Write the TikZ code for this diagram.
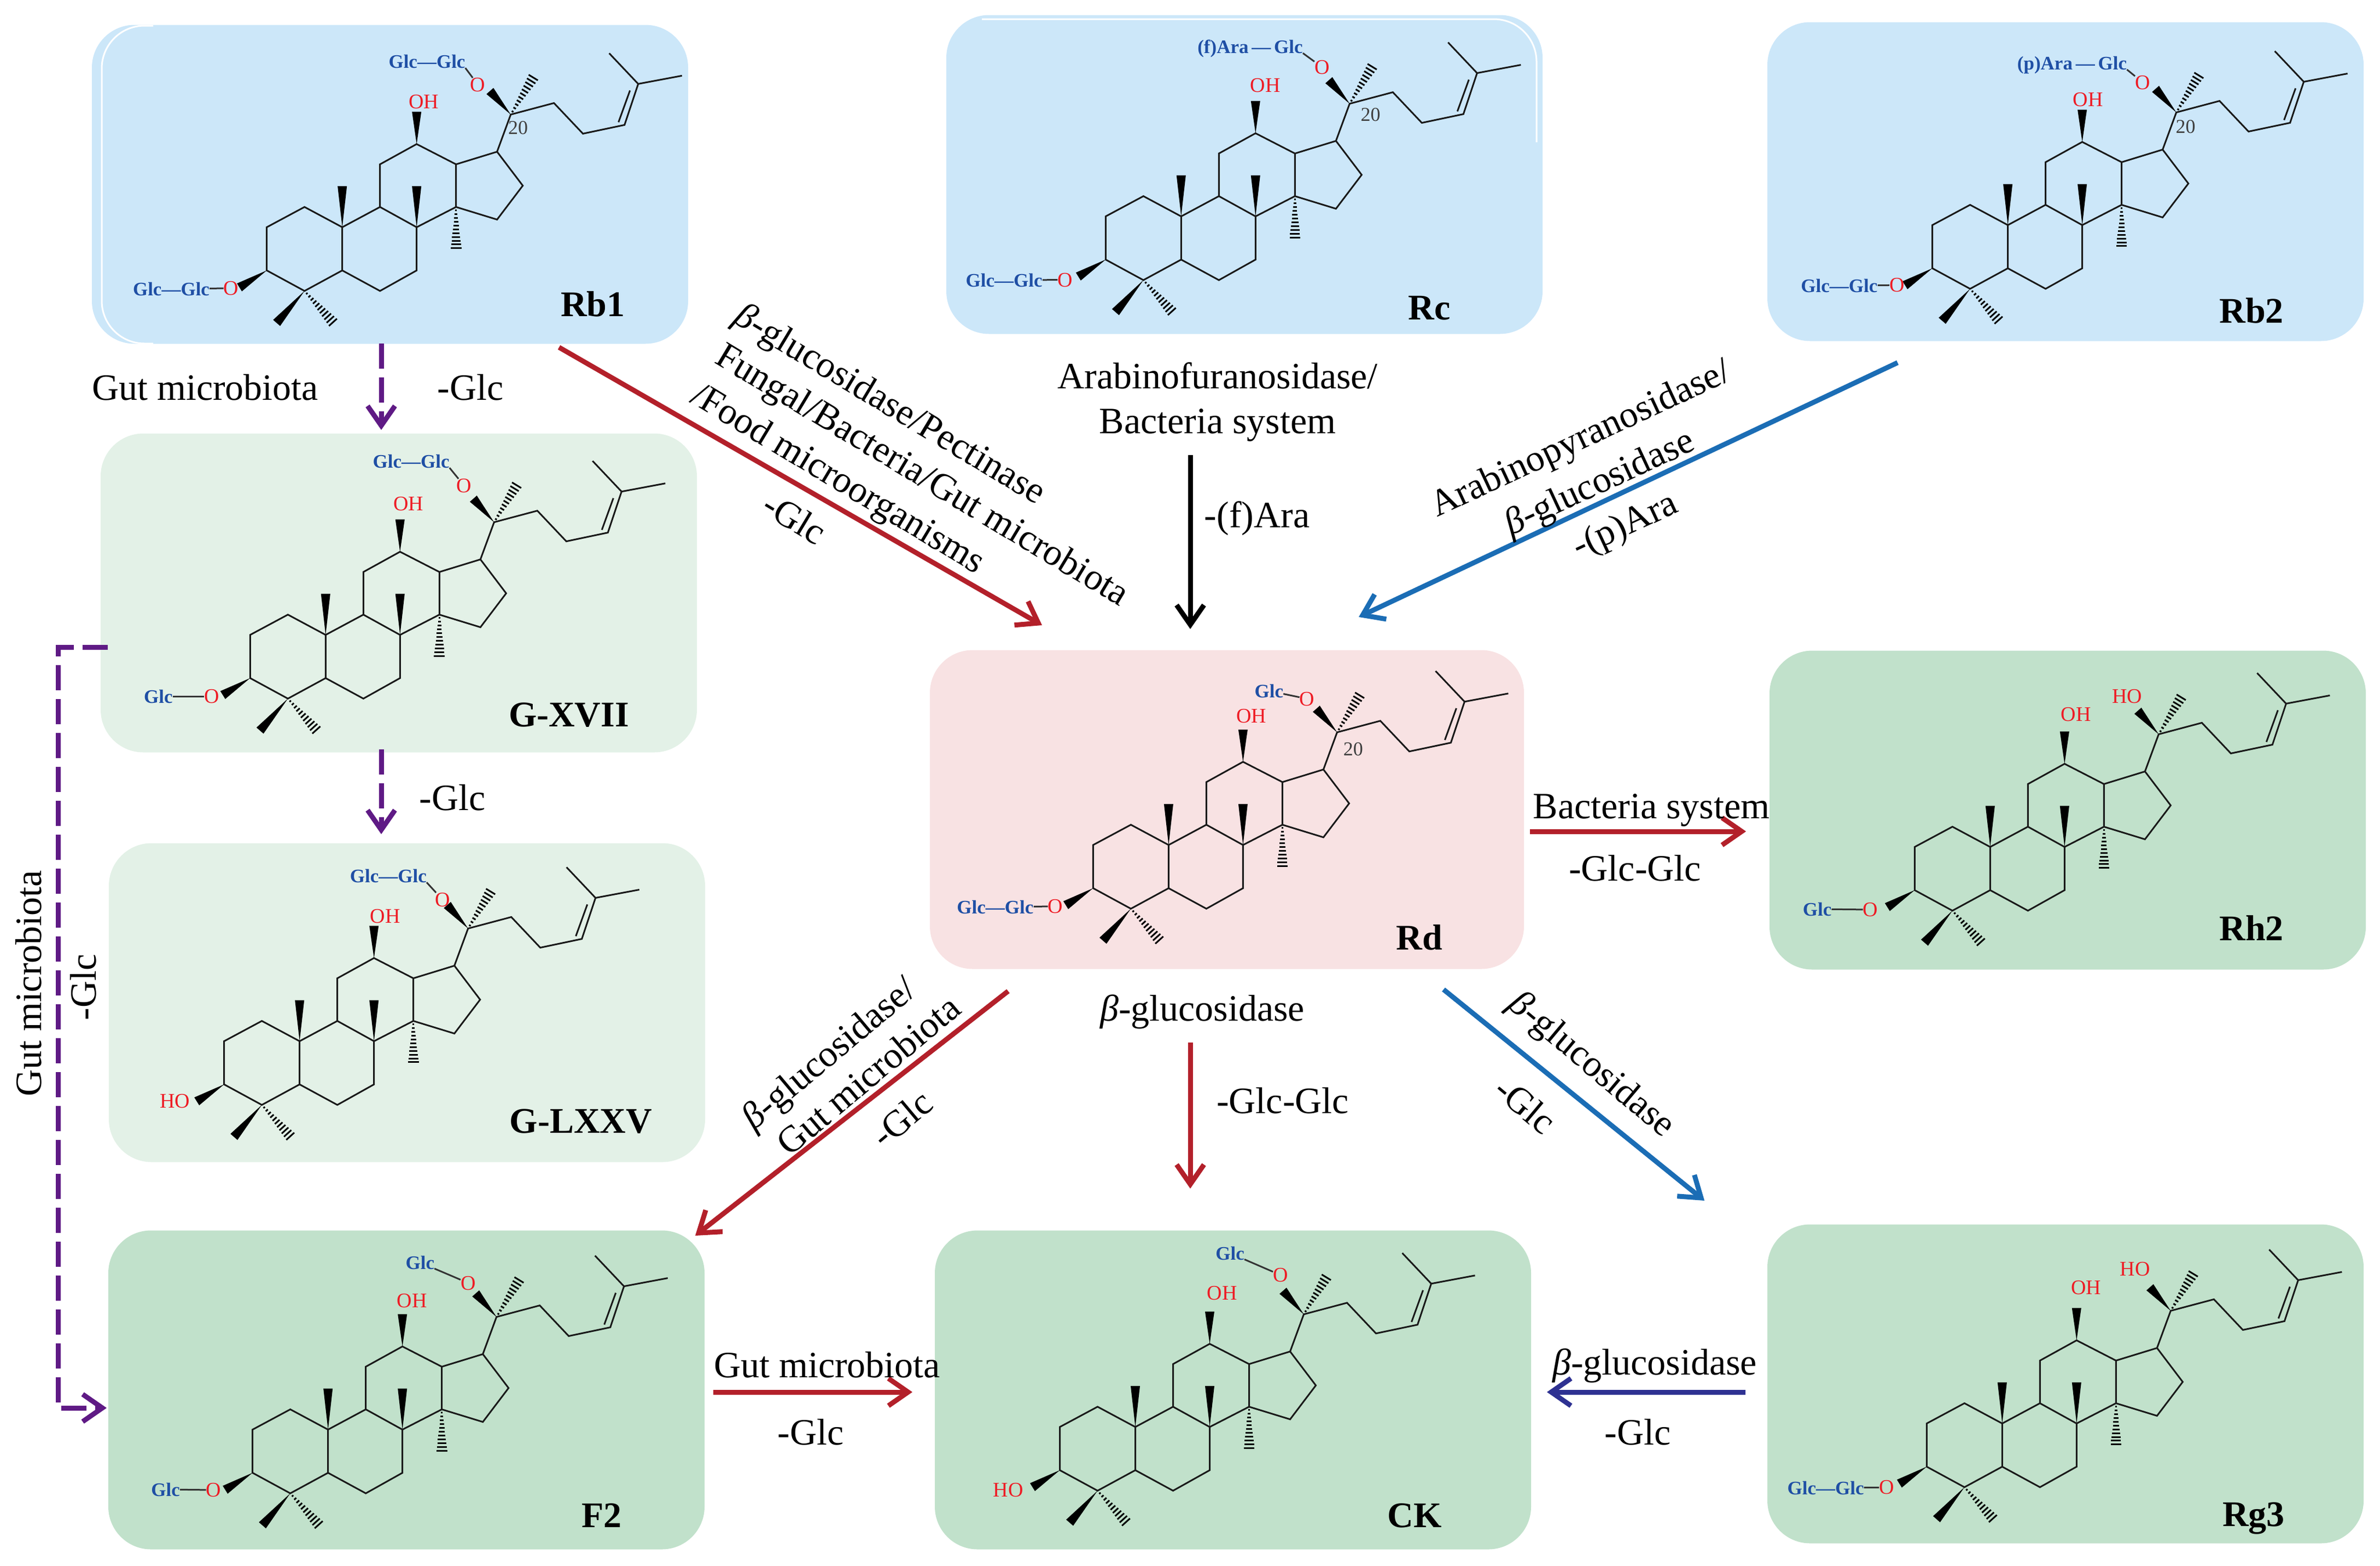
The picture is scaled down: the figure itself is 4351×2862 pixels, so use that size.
\documentclass[tikz,border=0pt]{standalone}
\usepackage{fontspec}
\setmainfont{Liberation Serif}
\usetikzlibrary{arrows.meta,calc}

\definecolor{boxblue}{HTML}{CCE7F9}
\definecolor{boxpink}{HTML}{F8E2E3}
\definecolor{boxpale}{HTML}{E3F1E7}
\definecolor{boxgreen}{HTML}{C1E1CB}
\definecolor{arrred}{HTML}{B3202A}
\definecolor{arrblue}{HTML}{1B6DB5}
\definecolor{arrnavy}{HTML}{2E3192}
\definecolor{arrpurple}{HTML}{5F1A85}
\definecolor{glcblue}{HTML}{1F4FA5}
\definecolor{oxred}{HTML}{EE1C25}

% hashed bond, narrow at the first point
\newcommand{\hashb}[2]{%
  \path (#1) coordinate (ha) (#2) coordinate (hb);
  \foreach \t in {0.08,0.17,...,1.02} {
    \pgfmathsetmacro{\hw}{1+\t*9}
    \draw[line width=3pt,black] ($(ha)!\t!(hb)!\hw pt!90:(hb)$) -- ($(ha)!\t!(hb)!\hw pt!-90:(hb)$);
  }
}
% solid wedge, narrow at the first point
\newcommand{\wedgeb}[2]{%
  \path (#1) coordinate (ha) (#2) coordinate (hb);
  \fill[black] (ha) -- ($(hb)!8.5pt!90:(ha)$) -- ($(hb)!8.5pt!-90:(ha)$) -- cycle;
}
% skeleton with C10 at the given place
\newcommand{\molat}[4]{%
  \begin{scope}[shift={(#1,#2)},xscale=#3,yscale=#4]
    \pic {mol};
  \end{scope}
}

\tikzset{
  x=1pt, y=-1pt,
  box/.style={rectangle, rounded corners=78pt, inner sep=0pt, minimum width=1090pt, minimum height=583pt},
  lab/.style={font=\fontsize{68}{82}\selectfont, inner sep=0pt, align=center},
  cname/.style={font=\bfseries\fontsize{66}{70}\selectfont, inner sep=0pt, text height=44pt, text depth=0pt},
  glc/.style={font=\bfseries\fontsize{35}{40}\selectfont, inner sep=0pt, text height=24pt, text depth=0pt, text=glcblue},
  oxy/.style={font=\fontsize{38}{42}\selectfont, inner sep=0pt, text height=25pt, text depth=0pt, text=oxred},
  num/.style={font=\fontsize{36}{40}\selectfont, inner sep=0pt, text=black!75},
  link/.style={line width=3pt, black!80},
  bond/.style={line width=3pt, black!90, line join=miter},
  arr/.style={line width=9pt, -{Straight Barb[length=36pt,width=50pt,line width=9pt]}},
  dashp/.style={arr, arrpurple, dash pattern=on 46pt off 16pt},
  mol/.pic={
    \begin{scope}[y=1pt]
      \draw[bond] (-138,-79) -- (-138,0) -- (-69,37) -- (0,0) -- (0,-79) -- (-69,-116.5) -- cycle;
      \draw[bond] (0,-79) -- (69,-116.5) -- (136,-79) -- (136,0) -- (69,37) -- (0,0);
      \draw[bond] (69,37) -- (69,115) -- (136,152) -- (208,115) -- (208,37) -- (136,0);
      \draw[bond] (208,37) -- (283,14) -- (330,76) -- (283,138) -- (208,115);
      \draw[bond] (283,138) -- (308,206) -- (387,227) -- (440,171) -- (516,187) -- (541,262) -- (488,318);
      \draw[bond] (541,262) -- (621,277);
      \draw[bond] (505,192) -- (526,250);
      \wedgeb{0,0}{0,75}
      \wedgeb{136,0}{136,75}
      \wedgeb{136,152}{136,211}
      \wedgeb{-69,-116.5}{-120,-175}
      \wedgeb{-138,-79}{-188,-110}
      \wedgeb{308,206}{270,249}
      \hashb{208,37}{208,-40}
      \hashb{-69,-116.5}{-16,-175}
      \hashb{308,206}{350,275}
    \end{scope}
  }
}

\begin{document}
\begin{tikzpicture}
  \useasboundingbox (0,0) rectangle (4351,2862);

  % boxes
  \node[box, fill=boxblue] (Rb1) at (713,337) {};
  \node[box, fill=boxblue] (Rc) at (2275,319) {};
  \node[box, fill=boxblue] (Rb2) at (3776,332) {};
  \node[box, fill=boxpale] (GXVII) at (729,1084) {};
  \node[box, fill=boxpale] (GLXXV) at (744,1833) {};
  \node[box, fill=boxgreen] (F2) at (743,2541) {};
  \node[box, fill=boxgreen] (CK) at (2254,2541) {};
  \node[box, fill=boxgreen] (Rg3) at (3776,2530) {};
  \node[box, fill=boxgreen] (Rh2) at (3780,1481) {};
  \node[box, fill=boxpink, minimum width=1086pt] (Rd) at (2243,1480) {};

  % white second edge on two of the blue boxes
  \draw[white, line width=3pt, rounded corners=78pt] (280,47) -- (186,47) -- (186,628) -- (280,628);
  \draw[white, line width=3pt, rounded corners=78pt] (1795,35) -- (2809,35) -- (2809,260);

  % skeletons
  \molat{625.7}{415.4}{.981}{.974}
  \molat{2159.3}{395.6}{1.02}{1.02}
  \molat{3670.6}{411.5}{.97}{.974}
  \molat{595.3}{1160.7}{1}{1.015}
  \molat{547.7}{1903.5}{1.03}{.974}
  \molat{599.7}{2613.6}{1.008}{1}
  \molat{2075.5}{2608.8}{1.045}{1.041}
  \molat{3660.3}{2602.4}{1.013}{1.055}
  \molat{3638.3}{1548.4}{1.045}{1.027}
  \molat{2136.4}{1544.8}{1}{1}

  % Rb1 groups
  \node[glc] (a1) at (780.5,112) {Glc—Glc};
  \node[oxy] (a2) at (873.7,155) {O};
  \draw[link] (a1.south east) -- (a2);
  \node[oxy] (a0) at (774.6,186) {OH};
  \node[num] (a3) at (947,233.5) {20};
  \node[glc] (a4) at (313,528) {Glc—Glc};
  \node[oxy] (a5) at (422.5,527) {O};
  \draw[link] (a4) -- (a5);
  % Rc groups
  \node[glc] (b1) at (2285.5,85) {(f)Ara\,—\,Glc};
  \node[oxy] (b2) at (2416.8,122.8) {O};
  \draw[link] (b1.south east) -- (b2);
  \node[oxy] (b0) at (2313.3,155.6) {OH};
  \node[num] (b3) at (2505.6,209.8) {20};
  \node[glc] (b4) at (1835.7,512.3) {Glc—Glc};
  \node[oxy] (b5) at (1947.3,511.5) {O};
  \draw[link] (b4) -- (b5);
  % Rb2 groups
  \node[glc] (c1) at (3788,115) {(p)Ara\,—\,Glc};
  \node[oxy] (c2) at (3917,150.5) {O};
  \draw[link] (c1.south east) -- (c2);
  \node[oxy] (c0) at (3817,182) {OH};
  \node[num] (c3) at (3995.6,232) {20};
  \node[glc] (c4) at (3362.4,522) {Glc—Glc};
  \node[oxy] (c5) at (3468,521.4) {O};
  \draw[link] (c4) -- (c5);
  % G-XVII groups
  \node[glc] (d1) at (751.6,843) {Glc—Glc};
  \node[oxy] (d2) at (848.5,888) {O};
  \draw[link] (d1.south east) -- (d2);
  \node[oxy] (d0) at (746.5,921) {OH};
  \node[glc] (d4) at (289.4,1273) {Glc};
  \node[oxy] (d5) at (387,1273) {O};
  \draw[link] (d4) -- (d5);
  % G-LXXV groups
  \node[glc] (e1) at (709.8,1601) {Glc—Glc};
  \node[oxy] (e2) at (808.8,1644.6) {O};
  \draw[link] (e1.south east) -- (e2);
  \node[oxy] (e0) at (704,1675) {OH};
  \node[oxy] (e4) at (320,2013) {HO};
  % F2 groups
  \node[glc] (f1) at (767.8,2308) {Glc};
  \node[oxy] (f2) at (855.8,2345.5) {O};
  \draw[link] (f1) -- (f2);
  \node[oxy] (f0) at (753,2378) {OH};
  \node[glc] (f4) at (302.6,2723) {Glc};
  \node[oxy] (f5) at (390.6,2724) {O};
  \draw[link] (f4) -- (f5);
  % CK groups
  \node[glc] (g1) at (2248.6,2291) {Glc};
  \node[oxy] (g2) at (2341,2331) {O};
  \draw[link] (g1) -- (g2);
  \node[oxy] (g0) at (2234,2364) {OH};
  \node[oxy] (g4) at (1843,2724) {HO};
  % Rg3 groups
  \node[oxy] (h1) at (3903,2320) {HO};
  \node[oxy] (h0) at (3813.6,2354.4) {OH};
  \node[glc] (h4) at (3337.5,2720) {Glc—Glc};
  \node[oxy] (h5) at (3449,2719.4) {O};
  \draw[link] (h4) -- (h5);
  % Rh2 groups
  \node[oxy] (i1) at (3888.5,1272.8) {HO};
  \node[oxy] (i0) at (3795.3,1306.4) {OH};
  \node[glc] (i4) at (3322,1662) {Glc};
  \node[oxy] (i5) at (3419.6,1663) {O};
  \draw[link] (i4) -- (i5);
  % Rd groups
  \node[glc] (j1) at (2319.8,1263) {Glc};
  \node[oxy] (j2) at (2389.5,1277.6) {O};
  \draw[link] (j1) -- (j2);
  \node[oxy] (j0) at (2287.5,1309) {OH};
  \node[num] (j3) at (2473.8,1369.7) {20};
  \node[glc] (j4) at (1819.4,1658) {Glc—Glc};
  \node[oxy] (j5) at (1929.5,1657) {O};
  \draw[link] (j4) -- (j5);

  % compound names
  \node[cname] (nRb1) at (1084,556) {Rb1};
  \node[cname] (nRc) at (2613,562) {Rc};
  \node[cname] (nRb2) at (4116,568) {Rb2};
  \node[cname] (nGXVII) at (1040,1306) {G-XVII};
  \node[cname] (nGLXXV) at (1062,2049) {G-LXXV};
  \node[cname] (nF2) at (1100,2770) {F2};
  \node[cname] (nCK) at (2586,2770) {CK};
  \node[cname] (nRg3) at (4120,2768) {Rg3};
  \node[cname] (nRh2) at (4116,1697) {Rh2};
  \node[cname] (nRd) at (2595,1714) {Rd};

  % arrow ends
  \coordinate (p1a) at (1022,635);   \coordinate (p1b) at (1905,1143);
  \coordinate (p2a) at (697,628);    \coordinate (p2b) at (697,786);
  \coordinate (p3a) at (697,1370);   \coordinate (p3b) at (697,1525);
  \coordinate (p4a) at (2176,832);   \coordinate (p4b) at (2176,1150);
  \coordinate (p5a) at (3469,663);   \coordinate (p5b) at (2484,1128);
  \coordinate (p6a) at (2797,1520);  \coordinate (p6b) at (3192,1520);
  \coordinate (p7a) at (1843,1812);  \coordinate (p7b) at (1271,2259);
  \coordinate (p8a) at (2176,1906);  \coordinate (p8b) at (2176,2173);
  \coordinate (p9a) at (2639,1809);  \coordinate (p9b) at (3116,2195);
  \coordinate (p10a) at (1304,2545); \coordinate (p10b) at (1668,2545);
  \coordinate (p11a) at (3191,2545); \coordinate (p11b) at (2828,2545);
  \coordinate (p12a) at (197,1183);  \coordinate (p12c) at (106,1183);
  \coordinate (p12d) at (106,2574);  \coordinate (p12b) at (195,2574);

  % arrows
  \draw[arr, arrred] (p1a) -- (p1b);
  \draw[dashp] (p2a) -- (p2b);
  \draw[dashp] (p3a) -- (p3b);
  \draw[arr, black] (p4a) -- (p4b);
  \draw[arr, arrblue] (p5a) -- (p5b);
  \draw[arr, arrred] (p6a) -- (p6b);
  \draw[arr, arrred] (p7a) -- (p7b);
  \draw[arr, arrred] (p8a) -- (p8b);
  \draw[arr, arrblue] (p9a) -- (p9b);
  \draw[arr, arrred] (p10a) -- (p10b);
  \draw[arr, arrnavy] (p11a) -- (p11b);
  \draw[dashp] (p12a) -- (p12c) -- (p12d) -- (p12b);

  % arrow labels
  \node[lab] (t1) at (375,708) {Gut microbiota};
  \node[lab] (t2) at (860,708) {-Glc};
  \node[lab,rotate=-31] (t3) at (1625,742) {\textit{β}-glucosidase/Pectinase};
  \node[lab,rotate=-31] (t4) at (1684,872) {Fungal/Bacteria/Gut microbiota};
  \node[lab,rotate=-31] (t5) at (1530,878) {/Food microorganisms};
  \node[lab,rotate=-31] (t6) at (1453,947) {-Glc};
  \node[lab] (t7) at (2226,735) {Arabinofuranosidase/\\Bacteria system};
  \node[lab] (t8) at (2298,948) {-(f)Ara};
  \node[lab,rotate=25] (t9) at (2891,805) {Arabinopyranosidase/};
  \node[lab,rotate=25] (t10) at (2925,885) {\textit{β}-glucosidase};
  \node[lab,rotate=25] (t11) at (2972,963) {-(p)Ara};
  \node[lab] (t12) at (3019,1481) {Bacteria system};
  \node[lab] (t13) at (2989,1587) {-Glc-Glc};
  \node[lab] (t14) at (2198,1850) {\textit{β}-glucosidase};
  \node[lab] (t15) at (2345,2012) {-Glc-Glc};
  \node[lab,rotate=40] (t16) at (1518,1929) {\textit{β}-glucosidase/};
  \node[lab,rotate=40] (t17) at (1587,1965) {Gut microbiota};
  \node[lab,rotate=40] (t18) at (1648,2045) {-Glc};
  \node[lab,rotate=-40] (t19) at (2908,1948) {\textit{β}-glucosidase};
  \node[lab,rotate=-40] (t20) at (2789,2020) {-Glc};
  \node[lab] (t21) at (1512,2495) {Gut microbiota};
  \node[lab] (t22) at (1482,2618) {-Glc};
  \node[lab] (t23) at (3025,2497) {\textit{β}-glucosidase};
  \node[lab] (t24) at (2994,2618) {-Glc};
  \node[lab] (t25) at (827,1458) {-Glc};
  \node[lab,rotate=90] (t26) at (52,1798) {Gut microbiota};
  \node[lab,rotate=90] (t27) at (152,1805) {-Glc};
\end{tikzpicture}
\end{document}
